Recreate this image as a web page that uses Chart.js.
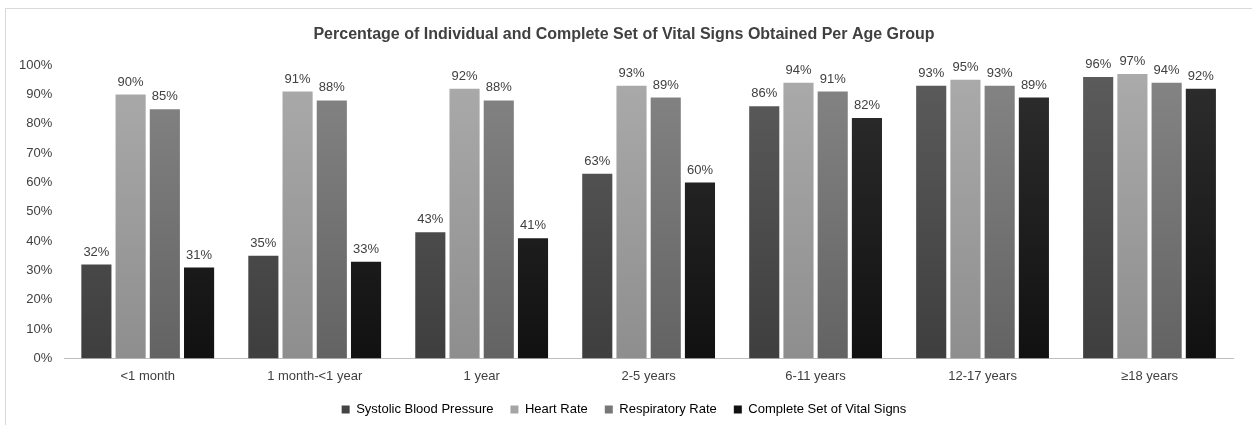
<!DOCTYPE html>
<html>
<head>
<meta charset="utf-8">
<script src="https://cdn.jsdelivr.net/npm/chart.js@4"></script>
<style>
  html, body { margin: 0; padding: 0; background: #fff; overflow: hidden; }
  #wrap { position: absolute; left: 5px; top: 8px; width: 1260px; height: 430px; border: 1px solid #d9d9d9; box-sizing: border-box; }
  #inner { position: absolute; left: 0; top: 0; width: 1246px; height: 416px; }
  canvas { display: block; }
</style>
</head>
<body>
<div id="wrap"><div id="inner"><canvas id="chart"></canvas></div></div>
<script>
const ageGroups = ['<1 month', '1 month-<1 year', '1 year', '2-5 years', '6-11 years', '12-17 years', '≥18 years'];
const systolic = [32, 35, 43, 63, 86, 93, 96];
const heartRate = [90, 91, 92, 93, 94, 95, 97];
const respRate = [85, 88, 88, 89, 91, 93, 94];
const completeSet = [31, 33, 41, 60, 82, 89, 92];

const seriesMeta = [
    { title: 'Systolic Blood Pressure', data: systolic, top: '#5c5c5c', bottom: '#3e3e3e', key: '#444' },
    { title: 'Heart Rate', data: heartRate, top: '#ababab', bottom: '#8e8e8e', key: '#a5a5a5' },
    { title: 'Respiratory Rate', data: respRate, top: '#858585', bottom: '#636363', key: '#777' },
    { title: 'Complete Set of Vital Signs', data: completeSet, top: '#2e2e2e', bottom: '#111111', key: '#111' }
];

const FONT = '"Liberation Sans", Arial, sans-serif';

function barGradient(ctx, top, bottom) {
    const chart = ctx.chart;
    const area = chart.chartArea;
    if (!area) return bottom;
    const g = chart.ctx.createLinearGradient(0, area.top, 0, area.bottom);
    g.addColorStop(0, top);
    g.addColorStop(1, bottom);
    return g;
}

const valueLabels = {
    id: 'valueLabels',
    afterDatasetsDraw(chart) {
        const c = chart.ctx;
        c.save();
        c.font = '13px ' + FONT;
        c.fillStyle = '#404040';
        c.textAlign = 'center';
        c.textBaseline = 'bottom';
        chart.data.datasets.forEach((ds, i) => {
            chart.getDatasetMeta(i).data.forEach((bar, j) => {
                c.fillText(ds.data[j] + '%', bar.x, bar.y - 6);
            });
        });
        c.restore();
    }
};

new Chart(document.getElementById('chart').getContext('2d'), {
    type: 'bar',
    data: {
        labels: ageGroups,
        datasets: seriesMeta.map(s => ({
            label: s.title,
            data: s.data,
            backgroundColor: ctx => barGradient(ctx, s.top, s.bottom),
            borderWidth: 0,
            categoryPercentage: 0.82,
            barPercentage: 0.88
        }))
    },
    options: {
        responsive: true,
        maintainAspectRatio: false,
        animation: false,
        layout: { padding: { left: 9, right: 19, top: 4, bottom: -1 } },
        plugins: {
            title: {
                display: true,
                text: 'Percentage of Individual and Complete Set of Vital Signs Obtained Per Age Group',
                color: '#404040',
                font: { family: FONT, size: 16, weight: 'bold' },
                padding: { top: 12, bottom: 21 }
            },
            legend: {
                position: 'bottom',
                labels: {
                    color: '#404040',
                    font: { family: FONT, size: 13 },
                    boxWidth: 8,
                    boxHeight: 8,
                    padding: 17,
                    generateLabels: chart => seriesMeta.map((s, i) => ({
                        text: s.title,
                        fillStyle: s.key,
                        strokeStyle: s.key,
                        lineWidth: 0,
                        datasetIndex: i
                    }))
                }
            },
            tooltip: { enabled: false }
        },
        scales: {
            x: {
                grid: { display: false },
                border: { color: '#bfbfbf', width: 1 },
                ticks: { color: '#404040', font: { family: FONT, size: 13 }, padding: 2 }
            },
            y: {
                min: 0,
                max: 100,
                grid: { display: false },
                border: { display: false },
                ticks: {
                    stepSize: 10,
                    color: '#404040',
                    font: { family: FONT, size: 13 },
                    padding: 4,
                    callback: v => v + '%'
                }
            }
        }
    },
    plugins: [valueLabels]
});
</script>
</body>
</html>
